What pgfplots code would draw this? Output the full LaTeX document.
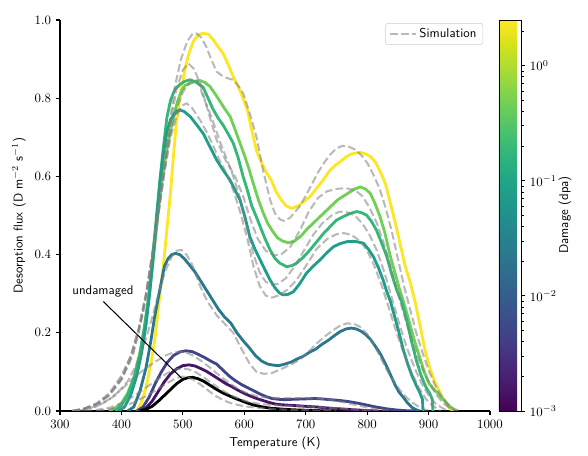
\documentclass[border=0pt]{standalone}
\usepackage{pgfplots}
\pgfplotsset{compat=1.18}
\definecolor{cY}{HTML}{FDE725}
\definecolor{cLG}{HTML}{70CF57}
\definecolor{cG}{HTML}{35B779}
\definecolor{cT}{HTML}{1F9E89}
\definecolor{cTB}{HTML}{2A788E}
\definecolor{cBP}{HTML}{414487}
\definecolor{cDP}{HTML}{471365}
\begin{document}
\begin{tikzpicture}
\path (-46.8pt,-35.1pt) rectangle (411.84pt,320.58pt);
\begin{axis}[
  name=main, at={(0,0)}, anchor=south west,
  scale only axis, width=335.4pt, height=305pt,
  xmin=300, xmax=1000, ymin=0, ymax=1.0,
  axis x line*=bottom, axis y line*=left,
  axis line style={line width=1.1pt, -},
  tick align=outside, major tick length=3.5pt,
  tick style={line width=0.9pt, black},
  xtick={300,400,...,1000}, ytick={0,0.2,0.4,0.6,0.8,1.0},
  yticklabel style={/pgf/number format/.cd, fixed, fixed zerofill, precision=1},
  xticklabel style={/pgf/number format/.cd, 1000 sep={}},
  xlabel={\sffamily Temperature (K)},
  ylabel={\sffamily Desorption flux (D m$^{-2}$ s$^{-1}$)},
  colormap/viridis, point meta min=-3, point meta max=0.39794,
  colorbar, colorbar shift/.style={xshift=7pt},
  colorbar style={
    at={(parent axis.south east)}, anchor=south west,
    scale only axis, width=17.16pt, height=305pt,
    ytick={-3,-2,-1,0},
    yticklabels={$10^{-3}$,$10^{-2}$,$10^{-1}$,$10^{0}$},
    minor ytick={-2.69897,-2.52288,-2.39794,-2.30103,-2.22185,-2.15490,-2.09691,-2.04576,
                 -1.69897,-1.52288,-1.39794,-1.30103,-1.22185,-1.15490,-1.09691,-1.04576,
                 -0.69897,-0.52288,-0.39794,-0.30103,-0.22185,-0.15490,-0.09691,-0.04576,0.30103},
    tick align=outside, major tick length=3.5pt, minor tick length=2pt,
    tick style={line width=0.7pt, black},
    axis line style={line width=0.6pt},
    ytick pos=right, yticklabel pos=right,
  },
  legend style={at={(0.984,0.992)}, anchor=north east, font=\sffamily,
    draw=black!20, rounded corners=2pt, fill=white, inner xsep=3pt, inner ysep=2pt},
  legend cell align=left,
  legend image code/.code={\draw[#1] (0cm,0cm) -- (0.7cm,0cm);},
  every axis plot/.append style={line join=round},
  clip=true,
]
% experiments
\addplot[forget plot, cY, line width=2.2pt] coordinates {(425,0.0) (432,0.02) (440,0.06) (448,0.12) (455,0.19) (461,0.275) (465,0.33) (468,0.37) (472,0.43) (476,0.497) (480,0.56) (484,0.64) (489,0.73) (494,0.79) (499,0.835) (505,0.885) (510,0.915) (517,0.945) (525,0.962) (533,0.966) (542,0.963) (550,0.948) (558,0.93) (566,0.913) (574,0.885) (582,0.855) (590,0.83) (598,0.80) (605,0.77) (612,0.72) (620,0.665) (628,0.635) (636,0.61) (644,0.59) (652,0.56) (660,0.54) (668,0.525) (677,0.518) (688,0.525) (698,0.537) (708,0.55) (718,0.57) (728,0.59) (738,0.613) (748,0.628) (758,0.64) (766,0.65) (774,0.657) (782,0.66) (790,0.661) (798,0.657) (806,0.65) (814,0.635) (822,0.61) (830,0.58) (838,0.53) (846,0.48) (854,0.425) (862,0.37) (870,0.33) (878,0.28) (886,0.22) (894,0.157) (902,0.11) (910,0.075) (918,0.05) (924,0.03) (930,0.015) (936,0.005) (940,0)};
\addplot[forget plot, cLG, line width=2.2pt] coordinates {(380,0) (390,0.008) (400,0.02) (410,0.045) (420,0.085) (430,0.15) (437,0.21) (444,0.28) (450,0.36) (456,0.45) (462,0.54) (468,0.61) (474,0.67) (480,0.72) (486,0.76) (492,0.795) (498,0.82) (504,0.833) (512,0.838) (520,0.843) (528,0.845) (536,0.84) (544,0.83) (552,0.812) (560,0.793) (568,0.773) (577,0.753) (585,0.72) (593,0.685) (600,0.655) (607,0.622) (615,0.58) (623,0.54) (630,0.51) (638,0.48) (646,0.46) (654,0.443) (662,0.435) (672,0.43) (682,0.435) (692,0.447) (702,0.465) (712,0.48) (722,0.495) (732,0.51) (742,0.525) (752,0.54) (762,0.55) (772,0.56) (780,0.568) (789,0.573) (797,0.568) (805,0.557) (813,0.53) (821,0.497) (829,0.455) (837,0.40) (845,0.355) (853,0.31) (861,0.27) (869,0.225) (877,0.18) (885,0.14) (893,0.10) (901,0.07) (909,0.055) (917,0.042) (925,0.028) (933,0.014) (941,0.003)};
\addplot[forget plot, cG, line width=2.2pt] coordinates {(390,0) (400,0.015) (410,0.04) (420,0.08) (430,0.14) (437,0.21) (444,0.29) (450,0.38) (456,0.48) (462,0.58) (468,0.67) (474,0.75) (480,0.795) (487,0.822) (495,0.835) (503,0.843) (512,0.847) (520,0.842) (527,0.835) (533,0.828) (541,0.80) (549,0.772) (557,0.75) (566,0.73) (574,0.708) (582,0.685) (590,0.648) (598,0.60) (605,0.565) (612,0.525) (620,0.495) (626,0.471) (634,0.44) (642,0.412) (650,0.39) (658,0.378) (669,0.369) (678,0.372) (685,0.378) (696,0.393) (707,0.412) (718,0.433) (729,0.454) (740,0.472) (750,0.488) (761,0.497) (772,0.505) (783,0.51) (791,0.507) (799,0.501) (807,0.485) (815,0.463) (823,0.432) (832,0.395) (840,0.35) (848,0.31) (856,0.28) (864,0.235) (872,0.18) (880,0.13) (888,0.09) (896,0.06) (902,0.045) (906,0.03) (907,0)};
\addplot[forget plot, cT, line width=2.2pt] coordinates {(395,0) (405,0.01) (415,0.04) (425,0.09) (433,0.15) (440,0.22) (446,0.30) (452,0.40) (458,0.50) (463,0.59) (468,0.655) (474,0.715) (480,0.745) (487,0.762) (495,0.77) (502,0.766) (512,0.753) (522,0.733) (533,0.71) (544,0.676) (555,0.642) (566,0.615) (577,0.59) (585,0.565) (593,0.54) (601,0.497) (609,0.446) (617,0.415) (626,0.386) (634,0.36) (642,0.335) (650,0.315) (657,0.302) (663,0.297) (671,0.298) (680,0.305) (690,0.325) (701,0.352) (712,0.37) (723,0.386) (734,0.404) (745,0.42) (756,0.428) (767,0.433) (778,0.434) (786,0.432) (794,0.429) (802,0.414) (810,0.395) (818,0.368) (826,0.335) (832,0.305) (838,0.28) (845,0.24) (852,0.20) (859,0.156) (866,0.12) (873,0.09) (880,0.065) (886,0.046) (890,0.03) (891,0)};
\addplot[forget plot, cTB, line width=2.2pt] coordinates {(410,0) (420,0.01) (430,0.05) (440,0.11) (448,0.18) (454,0.24) (460,0.29) (465,0.33) (470,0.37) (476,0.39) (482,0.40) (488,0.403) (495,0.40) (502,0.39) (510,0.375) (520,0.355) (528,0.335) (538,0.31) (548,0.285) (558,0.26) (568,0.24) (578,0.225) (588,0.20) (598,0.18) (608,0.162) (618,0.142) (628,0.128) (638,0.12) (648,0.117) (656,0.116) (666,0.12) (676,0.125) (686,0.133) (696,0.14) (706,0.15) (716,0.158) (726,0.17) (736,0.18) (746,0.192) (756,0.203) (766,0.21) (774,0.212) (782,0.21) (790,0.204) (798,0.195) (806,0.182) (814,0.164) (822,0.145) (830,0.12) (837,0.096) (846,0.065) (852,0.048) (859,0.035) (866,0.02) (873,0.009) (880,0.003) (886,0)};
\addplot[forget plot, cBP, line width=2.2pt] coordinates {(425,0) (435,0.01) (445,0.035) (455,0.07) (465,0.10) (475,0.125) (485,0.142) (495,0.151) (505,0.154) (515,0.152) (525,0.145) (535,0.137) (545,0.128) (555,0.12) (565,0.105) (575,0.09) (585,0.078) (595,0.068) (605,0.06) (615,0.052) (625,0.044) (635,0.037) (645,0.032) (655,0.03) (665,0.029) (680,0.03) (700,0.031) (715,0.032) (725,0.031) (740,0.029) (755,0.027) (770,0.024) (785,0.02) (800,0.015) (815,0.01) (830,0.006) (845,0.003) (860,0.001) (880,0)};
\addplot[forget plot, cDP, line width=2.2pt] coordinates {(430,0) (440,0.008) (450,0.025) (460,0.05) (470,0.075) (480,0.095) (490,0.108) (500,0.116) (510,0.118) (520,0.115) (530,0.108) (540,0.1) (550,0.09) (560,0.08) (570,0.07) (580,0.062) (590,0.053) (600,0.045) (610,0.038) (620,0.032) (630,0.027) (640,0.022) (650,0.018) (660,0.016) (680,0.014) (700,0.012) (720,0.01) (740,0.007) (760,0.005) (780,0.003) (800,0.001) (820,0)};
\addplot[forget plot, black, line width=2.2pt] coordinates {(430,0) (440,0.004) (450,0.012) (460,0.025) (470,0.04) (480,0.055) (490,0.07) (500,0.081) (508,0.085) (516,0.086) (524,0.083) (534,0.076) (544,0.066) (554,0.056) (564,0.047) (574,0.04) (584,0.033) (594,0.027) (604,0.021) (614,0.016) (624,0.012) (634,0.009) (644,0.007) (660,0.005) (680,0.003) (700,0.002) (720,0.001) (740,0)};
% simulations
\pgfplotsset{sim/.style={gray, opacity=0.55, line width=1.6pt, dash pattern=on 6pt off 2.6pt}}
\addplot[sim] coordinates {(320,0) (340,0.006) (360,0.018) (380,0.04) (400,0.08) (420,0.15) (435,0.25) (447,0.36) (457,0.48) (467,0.6) (477,0.72) (487,0.83) (497,0.9) (507,0.945) (515,0.963) (522,0.966) (530,0.955) (538,0.932) (546,0.9) (555,0.868) (566,0.855) (575,0.85) (582,0.847) (590,0.832) (598,0.813) (605,0.78) (612,0.745) (620,0.70) (630,0.62) (642,0.54) (650,0.505) (658,0.49) (665,0.486) (675,0.495) (690,0.523) (700,0.55) (710,0.58) (720,0.61) (730,0.635) (740,0.656) (750,0.672) (760,0.678) (770,0.676) (780,0.669) (790,0.655) (800,0.635) (810,0.605) (820,0.57) (830,0.52) (840,0.46) (850,0.39) (860,0.32) (870,0.26) (880,0.2) (890,0.15) (900,0.105) (910,0.068) (920,0.04) (930,0.02) (940,0.007) (950,0)};
\addlegendentry{Simulation}
\addplot[sim, forget plot] coordinates {(320,0) (340,0.006) (360,0.018) (380,0.042) (400,0.085) (415,0.14) (428,0.21) (440,0.30) (450,0.40) (460,0.51) (470,0.63) (480,0.74) (490,0.825) (500,0.872) (509,0.889) (518,0.875) (528,0.838) (539,0.778) (555,0.693) (570,0.64) (585,0.6) (598,0.55) (610,0.49) (622,0.44) (635,0.41) (648,0.398) (660,0.4) (675,0.42) (690,0.46) (705,0.51) (720,0.545) (735,0.562) (750,0.568) (765,0.57) (780,0.565) (792,0.55) (804,0.52) (816,0.48) (828,0.425) (840,0.36) (852,0.29) (864,0.225) (876,0.165) (888,0.115) (900,0.075) (912,0.043) (924,0.02) (936,0.006) (946,0)};
\addplot[sim, forget plot] coordinates {(320,0) (340,0.006) (360,0.017) (380,0.04) (400,0.08) (415,0.13) (428,0.2) (440,0.29) (450,0.39) (460,0.5) (470,0.61) (480,0.71) (490,0.775) (500,0.815) (510,0.838) (518,0.847) (524,0.845) (533,0.804) (542,0.77) (550,0.736) (560,0.69) (570,0.65) (580,0.61) (592,0.55) (604,0.47) (615,0.4) (625,0.355) (635,0.33) (645,0.323) (655,0.325) (668,0.34) (682,0.37) (697,0.41) (712,0.45) (727,0.48) (742,0.5) (755,0.51) (768,0.508) (780,0.5) (792,0.48) (804,0.45) (816,0.41) (828,0.355) (840,0.29) (852,0.225) (864,0.165) (876,0.115) (888,0.072) (900,0.04) (912,0.018) (925,0.005) (935,0)};
\addplot[sim, forget plot] coordinates {(320,0) (340,0.007) (360,0.02) (380,0.045) (400,0.09) (415,0.14) (428,0.21) (440,0.30) (450,0.40) (460,0.5) (470,0.61) (480,0.7) (490,0.755) (498,0.78) (506,0.787) (515,0.775) (528,0.744) (540,0.71) (550,0.676) (560,0.64) (571,0.608) (582,0.565) (595,0.5) (605,0.44) (615,0.37) (625,0.32) (635,0.295) (645,0.29) (655,0.295) (670,0.31) (685,0.335) (700,0.37) (718,0.415) (735,0.44) (750,0.452) (762,0.455) (775,0.45) (788,0.435) (800,0.41) (812,0.37) (824,0.32) (836,0.26) (848,0.2) (860,0.145) (872,0.1) (884,0.06) (896,0.03) (908,0.012) (920,0)};
\addplot[sim, forget plot] coordinates {(330,0) (350,0.008) (370,0.02) (390,0.04) (410,0.075) (425,0.12) (440,0.185) (452,0.25) (462,0.31) (472,0.36) (482,0.395) (490,0.41) (498,0.412) (506,0.40) (515,0.375) (528,0.32) (540,0.28) (555,0.245) (570,0.22) (582,0.2) (595,0.16) (609,0.12) (620,0.1) (632,0.095) (645,0.097) (664,0.11) (680,0.122) (691,0.132) (705,0.152) (718,0.173) (732,0.192) (745,0.207) (756,0.218) (767,0.224) (778,0.223) (788,0.216) (800,0.197) (810,0.173) (821,0.14) (832,0.105) (843,0.077) (853,0.054) (864,0.035) (875,0.02) (885,0.01) (895,0.003) (905,0)};
\addplot[sim, forget plot] coordinates {(320,0) (340,0.004) (360,0.012) (380,0.03) (400,0.055) (420,0.085) (440,0.11) (457,0.128) (472,0.142) (485,0.15) (495,0.152) (505,0.15) (515,0.143) (530,0.128) (545,0.11) (560,0.09) (575,0.072) (590,0.056) (605,0.045) (620,0.038) (640,0.034) (660,0.033) (690,0.033) (720,0.032) (740,0.029) (760,0.023) (780,0.016) (800,0.009) (820,0.004) (840,0)};
\addplot[sim, forget plot] coordinates {(340,0) (360,0.003) (380,0.008) (400,0.02) (420,0.038) (440,0.06) (460,0.082) (475,0.097) (488,0.106) (498,0.109) (508,0.107) (520,0.1) (535,0.085) (550,0.068) (565,0.052) (580,0.039) (595,0.029) (610,0.022) (630,0.017) (660,0.014) (700,0.012) (740,0.008) (780,0.004) (820,0)};
\addplot[sim, forget plot] coordinates {(360,0) (380,0.004) (400,0.01) (420,0.022) (440,0.038) (460,0.057) (475,0.072) (488,0.083) (498,0.088) (508,0.087) (520,0.078) (535,0.06) (550,0.042) (565,0.028) (580,0.019) (600,0.012) (630,0.007) (660,0.004) (700,0.002) (750,0)};
% annotation
\draw[line width=0.8pt] (axis cs:370.5,0.28) -- (axis cs:498,0.084);
\node[font=\sffamily] at (axis cs:370,0.307) {undamaged};
\node[anchor=south west, inner sep=1pt] at (rel axis cs:0,1) {$\times10^{17}$};
\end{axis}
\node[rotate=90, font=\sffamily] at (393.9pt,152.9pt) {Damage (dpa)};
\end{tikzpicture}
\end{document}
